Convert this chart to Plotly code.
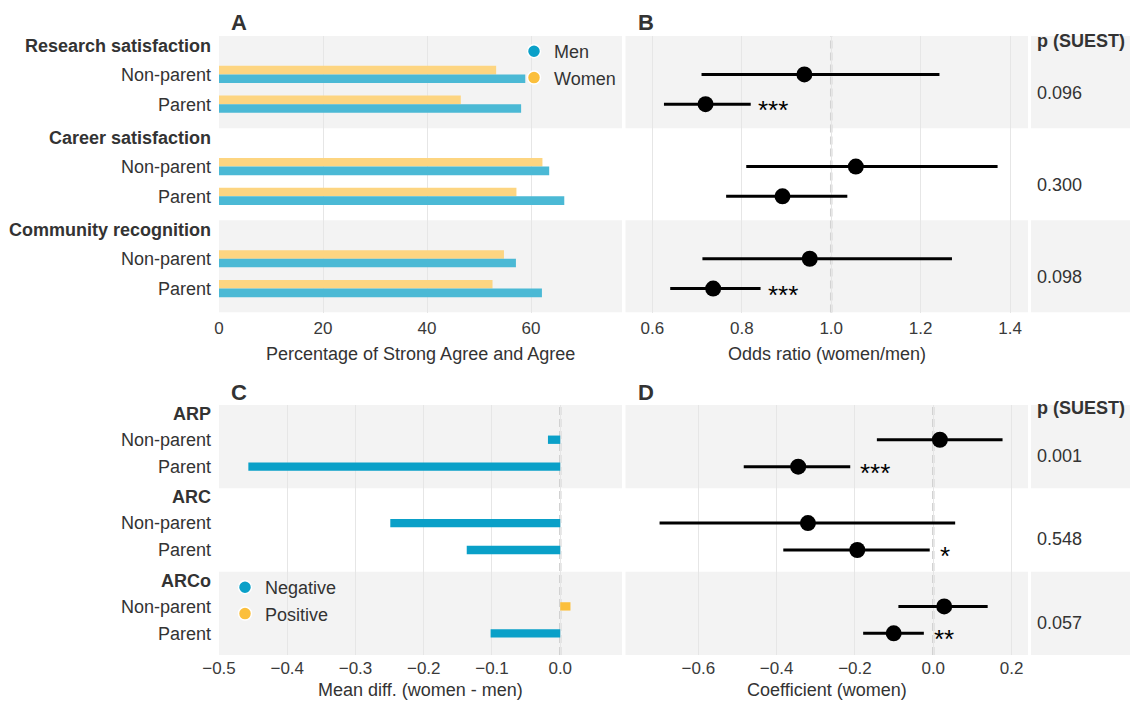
import plotly.graph_objects as go

# ---------------- data ----------------
top_outcomes = ["Research satisfaction", "Career satisfaction", "Community recognition"]
bottom_outcomes = ["ARP", "ARC", "ARCo"]
status = ["Non-parent", "Parent"]

# Panel A: % strongly agree / agree (order: outcome x status)
men_pct = [58.9, 58.1, 63.5, 66.4, 57.1, 62.1]
women_pct = [53.3, 46.5, 62.2, 57.2, 54.8, 52.6]

# Panel B: odds ratios (women/men)
or_est = [0.940, 0.719, 1.055, 0.891, 0.952, 0.736]
or_lo = [0.710, 0.626, 0.810, 0.765, 0.712, 0.640]
or_hi = [1.242, 0.820, 1.372, 1.036, 1.270, 0.842]
or_stars = ["", "***", "", "", "", "***"]
p_top = ["0.096", "0.300", "0.098"]

# Panel C: mean difference (women - men)
mean_diff = [-0.018, -0.457, -0.249, -0.137, 0.015, -0.102]

# Panel D: coefficient (women)
coef_est = [0.017, -0.345, -0.320, -0.194, 0.028, -0.101]
coef_lo = [-0.144, -0.484, -0.699, -0.383, -0.089, -0.179]
coef_hi = [0.177, -0.212, 0.056, -0.009, 0.139, -0.024]
coef_stars = ["", "***", "", "*", "", "**"]
p_bottom = ["0.001", "0.548", "0.057"]

# ---------------- styling ----------------
W, H = 1130, 706
FONT = "Liberation Sans, Arial, sans-serif"
BAND = "#f3f3f3"
GRID = "#e6e6e6"
TXT = "#333333"
BLUE = "#0aa0c8"
YELLOW = "#fbbf3c"
MEN_BAR = "#4bb9d5"
WOMEN_BAR = "#fdd581"

HEADER_OFF, NP_OFF, P_OFF = 0.31, 1.25, 2.22
P_LABEL_OFF = 1.84


def px_x(a, b):
    return [a / W, b / W]


def px_y(top, bottom):
    return [1 - bottom / H, 1 - top / H]


def row_positions():
    pos = []
    for g in range(3):
        pos += [3 * g + NP_OFF, 3 * g + P_OFF]
    return pos


rows = row_positions()
headers = [3 * g + HEADER_OFF for g in range(3)]

fig = go.Figure()

# ---- Panel A bars ----
BW = 0.28
fig.add_trace(go.Bar(x=women_pct, y=[r - BW / 2 for r in rows], orientation="h", width=BW,
                     marker=dict(color=WOMEN_BAR, line=dict(width=0)), showlegend=False,
                     xaxis="x", yaxis="y"))
fig.add_trace(go.Bar(x=men_pct, y=[r + BW / 2 for r in rows], orientation="h", width=BW,
                     marker=dict(color=MEN_BAR, line=dict(width=0)), showlegend=False,
                     xaxis="x", yaxis="y"))
for name, col in [("Men", BLUE), ("Women", YELLOW)]:
    fig.add_trace(go.Scatter(x=[None], y=[None], mode="markers", name=name,
                             marker=dict(size=13, color=col, line=dict(color="white", width=1.5)),
                             legend="legend", xaxis="x", yaxis="y"))

# ---- Panel B forest ----
fig.add_trace(go.Scatter(
    x=or_est, y=rows, mode="markers",
    marker=dict(size=16, color="black"),
    error_x=dict(type="data", symmetric=False,
                 array=[h - e for h, e in zip(or_hi, or_est)],
                 arrayminus=[e - l for e, l in zip(or_est, or_lo)],
                 thickness=3, width=0, color="black"),
    showlegend=False, xaxis="x2", yaxis="y2"))

# ---- Panel C bars ----
CW = 0.30
neg_vals = [v if v < 0 else None for v in mean_diff]
pos_vals = [v if v >= 0 else None for v in mean_diff]
fig.add_trace(go.Bar(x=neg_vals, y=rows, orientation="h", width=CW,
                     marker=dict(color=BLUE, line=dict(width=0)), showlegend=False,
                     xaxis="x4", yaxis="y4"))
fig.add_trace(go.Bar(x=pos_vals, y=rows, orientation="h", width=CW,
                     marker=dict(color=YELLOW, line=dict(width=0)), showlegend=False,
                     xaxis="x4", yaxis="y4"))
for name, col in [("Negative", BLUE), ("Positive", YELLOW)]:
    fig.add_trace(go.Scatter(x=[None], y=[None], mode="markers", name=name,
                             marker=dict(size=13, color=col, line=dict(color="white", width=1.5)),
                             legend="legend2", xaxis="x4", yaxis="y4"))

# ---- Panel D forest ----
fig.add_trace(go.Scatter(
    x=coef_est, y=rows, mode="markers",
    marker=dict(size=16, color="black"),
    error_x=dict(type="data", symmetric=False,
                 array=[h - e for h, e in zip(coef_hi, coef_est)],
                 arrayminus=[e - l for e, l in zip(coef_est, coef_lo)],
                 thickness=3, width=0, color="black"),
    showlegend=False, xaxis="x5", yaxis="y5"))

# dummy traces so p columns exist
fig.add_trace(go.Scatter(x=[None], y=[None], showlegend=False, xaxis="x3", yaxis="y3"))
fig.add_trace(go.Scatter(x=[None], y=[None], showlegend=False, xaxis="x6", yaxis="y6"))

# ---------------- axes ----------------
TOP = px_y(36, 312.5)
BOT = px_y(405, 655)
XA = px_x(219, 622)
XB = px_x(625.5, 1028)
XP = px_x(1031, 1130)

tickvals = []
ticktext_top = []
ticktext_bot = []
for g in range(3):
    tickvals += [headers[g], rows[2 * g], rows[2 * g + 1]]
    ticktext_top += ["<b>%s</b>" % top_outcomes[g], status[0], status[1]]
    ticktext_bot += ["<b>%s</b>" % bottom_outcomes[g], status[0], status[1]]

xcommon = dict(showgrid=True, gridcolor=GRID, gridwidth=1.2, zeroline=False, showline=False,
               ticks="", tickfont=dict(size=17, color="#3a3a3a", family=FONT), fixedrange=True,
               automargin=False)
ycommon = dict(range=[9, 0], showgrid=False, zeroline=False, showline=False, ticks="",
               tickmode="array", tickvals=tickvals, fixedrange=True, automargin=False)

layout = dict(
    xaxis=dict(domain=XA, range=[0, 77.5], tickvals=[0, 20, 40, 60], anchor="y",
               ticklabelstandoff=3, **xcommon),
    yaxis=dict(domain=TOP, anchor="x", ticktext=ticktext_top, showticklabels=True,
               tickfont=dict(size=18, color=TXT, family=FONT), ticklabelstandoff=7, **ycommon),
    xaxis2=dict(domain=XB, range=[0.540, 1.440], tickvals=[0.6, 0.8, 1.0, 1.2, 1.4],
                tickformat=".1f", anchor="y2", ticklabelstandoff=3, **xcommon),
    yaxis2=dict(domain=TOP, anchor="x2", showticklabels=False, **ycommon),
    xaxis3=dict(domain=XP, range=[0, 1], visible=False, anchor="y3", fixedrange=True),
    yaxis3=dict(domain=TOP, anchor="x3", showticklabels=False, **ycommon),
    xaxis4=dict(domain=XA, range=[-0.5, 0.0905], tickvals=[-0.5, -0.4, -0.3, -0.2, -0.1, 0.0],
                tickformat=".1f", anchor="y4", ticklabelstandoff=1, **xcommon),
    yaxis4=dict(domain=BOT, anchor="x4", ticktext=ticktext_bot, showticklabels=True,
                tickfont=dict(size=18, color=TXT, family=FONT), ticklabelstandoff=7, **ycommon),
    xaxis5=dict(domain=XB, range=[-0.786, 0.242], tickvals=[-0.6, -0.4, -0.2, 0.0, 0.2],
                tickformat=".1f", anchor="y5", ticklabelstandoff=1, **xcommon),
    yaxis5=dict(domain=BOT, anchor="x5", showticklabels=False, **ycommon),
    xaxis6=dict(domain=XP, range=[0, 1], visible=False, anchor="y6", fixedrange=True),
    yaxis6=dict(domain=BOT, anchor="x6", showticklabels=False, **ycommon),
)
fig.update_layout(**layout)

# ---------------- shapes ----------------
shapes = []
for xr, yr in [("x", "y"), ("x2", "y2"), ("x3", "y3"), ("x4", "y4"), ("x5", "y5"), ("x6", "y6")]:
    for g in (0, 2):
        shapes.append(dict(type="rect", xref=xr + " domain", yref=yr, x0=0, x1=1,
                           y0=3 * g, y1=3 * g + 3, fillcolor=BAND, line=dict(width=0),
                           layer="below"))
for xr, yr, x0 in [("x2", "y2", 1.0), ("x4", "y4", 0.0), ("x5", "y5", 0.0)]:
    shapes.append(dict(type="line", xref=xr, yref=yr + " domain", x0=x0, x1=x0, y0=0, y1=1,
                       line=dict(color="#d2d2d2", width=2.5, dash="8px,4px"), layer="below"))

# ---------------- annotations ----------------
ann = []


def text(x, y, s, size=18, bold=False, xanchor="center", xref="paper", yref="paper",
         color=TXT, yshift=0, xshift=0):
    ann.append(dict(x=x, y=y, xref=xref, yref=yref, text=("<b>%s</b>" % s) if bold else s,
                    showarrow=False, xanchor=xanchor, yanchor="middle", xshift=xshift,
                    yshift=yshift, font=dict(size=size, color=color, family=FONT)))


# panel letters
text(239 / W, 1 - 23 / H, "A", size=22, bold=True)
text(645.5 / W, 1 - 23 / H, "B", size=22, bold=True)
text(239 / W, 1 - 392 / H, "C", size=22, bold=True)
text(645.5 / W, 1 - 392 / H, "D", size=22, bold=True)

# axis titles
text(sum(XA) / 2, 1 - 354 / H, "Percentage of Strong Agree and Agree")
text(sum(XB) / 2, 1 - 354 / H, "Odds ratio (women/men)")
text(sum(XA) / 2, 1 - 690 / H, "Mean diff. (women - men)")
text(sum(XB) / 2, 1 - 690 / H, "Coefficient (women)")

# p column
text(0.04, 0.16, "p (SUEST)", bold=True, xanchor="left", xref="x3 domain", yref="y3")
text(0.04, 0.11, "p (SUEST)", bold=True, xanchor="left", xref="x6 domain", yref="y6")
for g in range(3):
    text(0.04, 3 * g + P_LABEL_OFF, p_top[g], xanchor="left", xref="x3 domain", yref="y3")
    text(0.04, 3 * g + P_LABEL_OFF, p_bottom[g], xanchor="left", xref="x6 domain", yref="y6")

# significance stars
for i, s in enumerate(or_stars):
    if s:
        text(or_hi[i], rows[i], s, size=26, xanchor="left", xref="x2", yref="y2",
             color="black", xshift=5, yshift=-6)
for i, s in enumerate(coef_stars):
    if s:
        text(coef_hi[i], rows[i], s, size=26, xanchor="left", xref="x5", yref="y5",
             color="black", xshift=8, yshift=-6)

fig.update_layout(
    width=W, height=H, margin=dict(l=0, r=0, t=0, b=0, autoexpand=False),
    paper_bgcolor="white", plot_bgcolor="white",
    barmode="overlay", shapes=shapes, annotations=ann,
    font=dict(family=FONT, color=TXT),
    legend=dict(x=514 / W, y=1 - 33 / H, xanchor="left", yanchor="top",
                bgcolor="rgba(0,0,0,0)", font=dict(size=18, color=TXT, family=FONT),
                itemsizing="trace", tracegroupgap=0),
    legend2=dict(x=225 / W, y=1 - 569 / H, xanchor="left", yanchor="top",
                 bgcolor="rgba(0,0,0,0)", font=dict(size=18, color=TXT, family=FONT),
                 itemsizing="trace", tracegroupgap=0),
)

fig.write_html("out.html", config={"displayModeBar": False},
               post_script="document.body.style.margin='0px';document.body.style.overflow='hidden';")
